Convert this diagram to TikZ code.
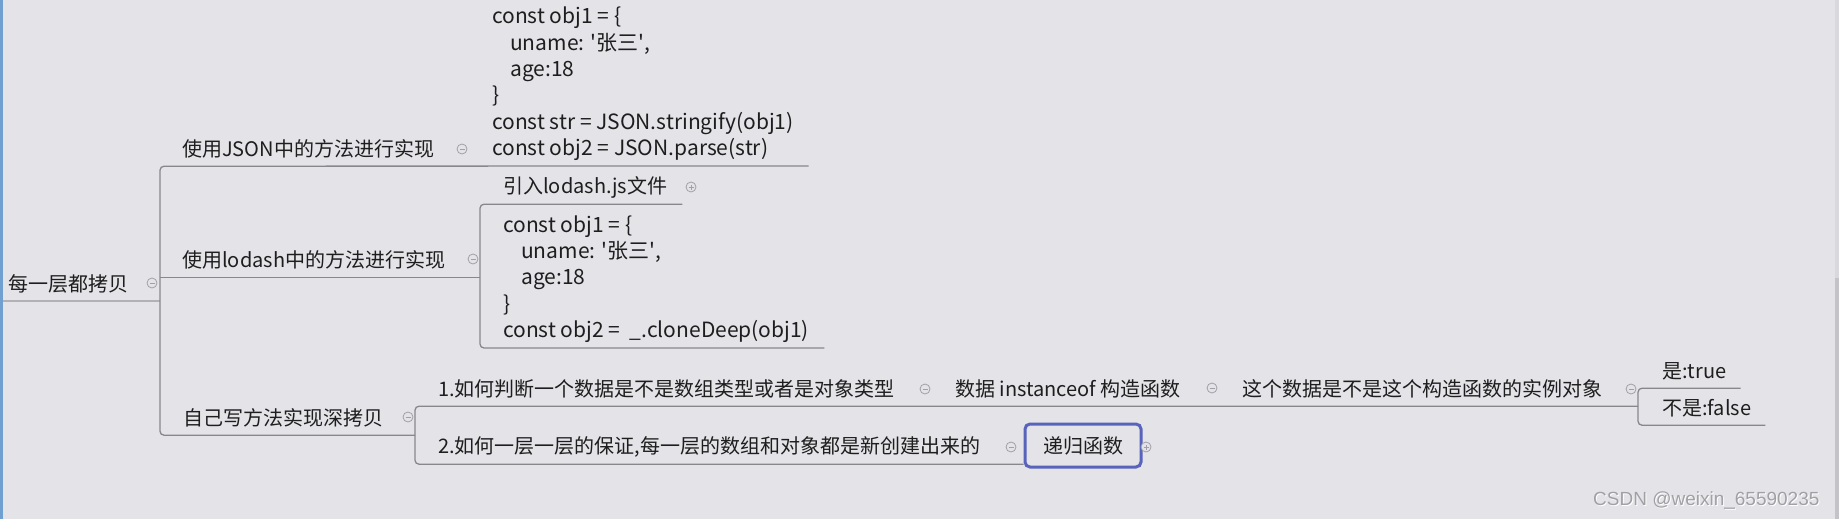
\documentclass[tikz,border=0pt]{standalone}
\usepackage{fontspec}
\setmainfont{Noto Sans CJK SC}
\newfontfamily\markfont{Liberation Sans}
\definecolor{bg}{RGB}{227,227,232}
\definecolor{linegray}{RGB}{135,135,140}
\definecolor{rootgray}{RGB}{178,178,182}
\definecolor{foldgray}{RGB}{160,160,166}
\definecolor{boxblue}{RGB}{88,100,188}
\definecolor{edgeblue}{RGB}{112,160,208}
\definecolor{inkgray}{RGB}{30,30,30}
\definecolor{markgray}{RGB}{160,160,165}
\definecolor{bargray}{RGB}{196,196,200}
\tikzset{
  topic/.style={anchor=west, inner sep=0pt, minimum height=34pt, text=inkgray,
    font=\fontsize{20}{24}\selectfont},
  codebox/.style={anchor=south west, align=left, inner xsep=15pt, inner ysep=5pt,
    text=inkgray, font=\fontsize{21}{26.4}\selectfont},
  edge/.style={draw=linegray, line width=1.3pt, rounded corners=4pt},
  fold/.style={circle, draw=foldgray, fill=bg, line width=0.8pt, minimum size=10pt, inner sep=0pt,
    path picture={\draw[foldgray, line width=0.8pt]
      ([xshift=-2.5pt]path picture bounding box.center) -- ([xshift=2.5pt]path picture bounding box.center);}},
  unfold/.style={circle, draw=foldgray, fill=bg, line width=0.8pt, minimum size=10pt, inner sep=0pt,
    path picture={\draw[foldgray, line width=0.8pt]
      ([xshift=-2.5pt]path picture bounding box.center) -- ([xshift=2.5pt]path picture bounding box.center)
      ([yshift=-2.5pt]path picture bounding box.center) -- ([yshift=2.5pt]path picture bounding box.center);}},
}
\begin{document}
\begin{tikzpicture}[x=1pt, y=-1pt]
  \useasboundingbox (0,0) rectangle (1839,519);
  \fill[bg] (0,0) rectangle (1839,519);
  \fill[edgeblue] (0,0) rectangle (2.5,519);
  \fill[bargray!35!bg] (1835,0) rectangle (1839,278);
  \fill[bargray] (1835,278) rectangle (1839,519);

  \coordinate (k0) at (160,0);
  \coordinate (k2) at (480,0);
  \coordinate (k3) at (415,0);
  \coordinate (k4) at (1638,0);

  \node[topic] (root) at (8,284) {每一层都拷贝};
  \node[topic] (json) at (182,149) {使用JSON中的方法进行实现};
  \node[topic] (lod) at (182,260) {使用lodash中的方法进行实现};
  \node[topic] (own) at (183,418) {自己写方法实现深拷贝};
  \node[codebox] (code1) at (477,166) {const obj1 = \{\\
    \hspace*{18pt}uname: \textquotesingle 张三\textquotesingle,\\
    \hspace*{18pt}age:18\\
    \}\\
    const str = JSON.stringify(obj1)\\
    const obj2 = JSON.parse(str)};
  \node[topic] (imp) at (503,187) {引入lodash.js文件};
  \node[codebox] (code2) at (488,348) {const obj1 = \{\\
    \hspace*{18pt}uname: \textquotesingle 张三\textquotesingle,\\
    \hspace*{18pt}age:18\\
    \}\\
    const obj2 = \ \_.cloneDeep(obj1)};
  \node[topic] (q1) at (438,389) {1.如何判断一个数据是不是数组类型或者是对象类型};
  \node[topic] (inst) at (955,389) {数据 instanceof 构造函数};
  \node[topic] (test) at (1242,389) {这个数据是不是这个构造函数的实例对象};
  \node[topic, inner xsep=14pt] (yes) at (1648,371) {是:true};
  \node[topic, inner xsep=14pt] (no) at (1648,408) {不是:false};
  \node[topic] (q2) at (438,447) {2.如何一层一层的保证,每一层的数组和对象都是新创建出来的};
  \node[topic, anchor=center, draw=boxblue, line width=3pt, rounded corners=5pt,
    minimum width=116pt, minimum height=43pt] (rec) at (1083,445.5) {递归函数};

  \draw[edge, draw=rootgray, line width=2pt] ([xshift=-5pt]root.south west) -- (k0 |- root.south);
  \draw[edge] (code1.south east) -- (k0 |- json.south) -- (k0 |- own.south) -- (k3 |- own.south);
  \draw[edge] (k0 |- lod.south) -- (k2 |- lod.south);
  \draw[edge] ([xshift=15pt]imp.south east) -- (k2 |- imp.south) -- (k2 |- code2.south) -- (code2.south east);
  \draw[edge] (k4 |- q1.south) -- (k3 |- q1.south) -- (k3 |- q2.south) -- (rec.west |- q2.south);
  \draw[edge] (yes.south east) -- (k4 |- yes.south) -- (k4 |- no.south) -- (no.south east);

  \node[fold] (f0) at (152,283) {};
  \node[fold] (f1) at (462,149) {};
  \node[fold] (f2) at (473,259) {};
  \node[fold] (f3) at (408,417) {};
  \node[fold] (f4) at (925,389) {};
  \node[fold] (f5) at (1212,388) {};
  \node[fold] (f6) at (1631,389) {};
  \node[fold] (f7) at (1011,447) {};
  \node[unfold] (f8) at (691,187) {};
  \node[unfold] (f9) at (1146,447) {};

  \node[anchor=east, text=white, font=\markfont\fontsize{19}{22}\selectfont] (markshade) at (1824,501) {CSDN @weixin\_65590235};
  \node[anchor=east, text=markgray, font=\markfont\fontsize{19}{22}\selectfont] (mark) at (1823,500) {CSDN @weixin\_65590235};
\end{tikzpicture}
\end{document}
